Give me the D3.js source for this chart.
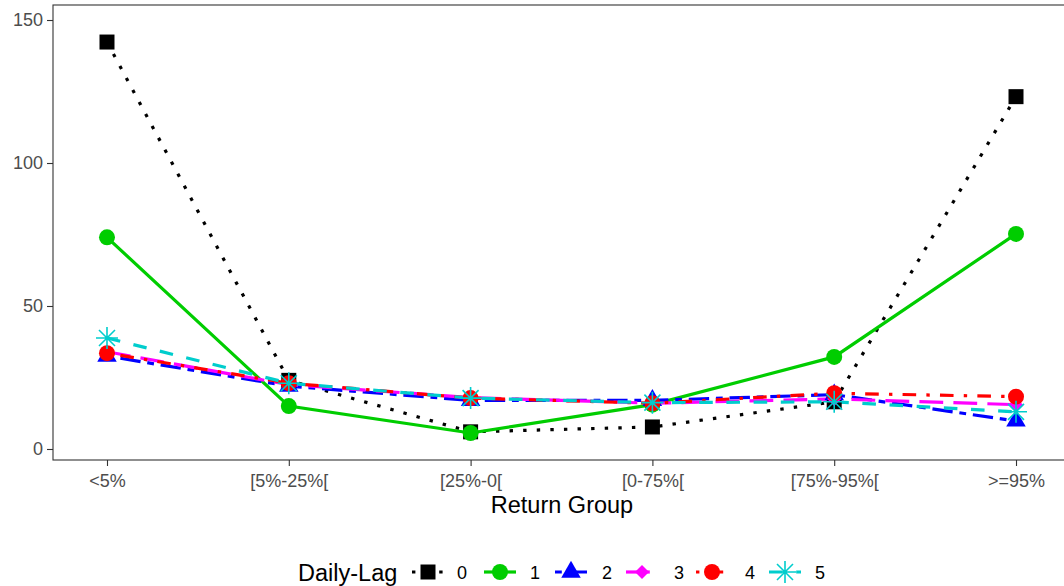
<!DOCTYPE html>
<html>
<head>
<meta charset="utf-8">
<script src="https://cdn.jsdelivr.net/npm/d3@7"></script>
<style>
  html, body { margin: 0; padding: 0; background: #fff; }
  svg { display: block; font-family: "Liberation Sans", Arial, sans-serif; }
</style>
</head>
<body>
<svg id="chart" width="1064" height="586"></svg>
<script>
// Return-group categories on the x axis
const groups = ["<5%", "[5%-25%[", "[25%-0[", "[0-75%[", "[75%-95%[", ">=95%"];

// Daily-lag series (one array per lag)
const lag0 = [142.3, 24, 6, 7.7, 16.5, 123.2];
const lag1 = [74, 15, 5.6, 15.5, 32.2, 75.2];
const lag2 = [32.5, 22, 17, 17, 19, 9.8];
const lag3 = [34, 22.5, 18, 16, 17.5, 15.5];
const lag4 = [33.5, 23, 17.8, 16, 19.5, 18.3];
const lag5 = [38.8, 23, 17.8, 16.2, 16.5, 13];

const lagNames = ["0", "1", "2", "3", "4", "5"];
const yTicks = [0, 50, 100, 150];

const seriesValues = [lag0, lag1, lag2, lag3, lag4, lag5];
const colors = ["#000000", "#00CD00", "#0000FF", "#FF00FF", "#FF0000", "#00CDCD"];
const lw = 3.2;
const u = 3.4; // dash unit
const dashes = [
  `${u} ${3 * u}`,               // dotted
  null,                           // solid
  `${2 * u} ${2 * u} ${6 * u} ${2 * u}`, // twodash
  `${7 * u} ${3 * u}`,           // longdash
  `${u} ${3 * u} ${4 * u} ${3 * u}`,     // dotdash
  `${4 * u} ${4 * u}`            // dashed
];
const shapes = ["square", "circle", "triangle", "diamond", "circle", "star"];

const svg = d3.select("#chart");
const panel = { left: 53, top: 5, right: 1070, bottom: 460 };

const x = d3.scalePoint().domain(groups).range([panel.left, panel.right]).padding(0.297);
const y = d3.scaleLinear().domain([-3.85, 155.25]).range([panel.bottom, panel.top]);

// clip to the panel
svg.append("defs").append("clipPath").attr("id", "clip")
  .append("rect").attr("x", panel.left).attr("y", panel.top)
  .attr("width", panel.right - panel.left).attr("height", panel.bottom - panel.top);

// axes
const xAxis = d3.axisBottom(x).tickSize(6).tickPadding(5);
const yAxis = d3.axisLeft(y).tickValues(yTicks).tickSize(6).tickPadding(4);

const gx = svg.append("g").attr("transform", `translate(0,${panel.bottom})`).call(xAxis);
gx.select(".domain").remove();
gx.selectAll(".tick line").attr("stroke", "#333").attr("stroke-width", 1.1);
gx.selectAll(".tick text").attr("fill", "#4d4d4d").style("font-size", "18px").attr("dy", "0.9em");

const gy = svg.append("g").attr("transform", `translate(${panel.left},0)`).call(yAxis);
gy.select(".domain").remove();
gy.selectAll(".tick line").attr("stroke", "#333").attr("stroke-width", 1.1);
gy.selectAll(".tick text").attr("fill", "#4d4d4d").style("font-size", "18px");

// marker drawing
function drawMarker(sel, shape, color) {
  if (shape === "square") {
    sel.append("path").attr("d", d3.symbol(d3.symbolSquare, 225)()).attr("fill", color);
  } else if (shape === "circle") {
    sel.append("circle").attr("r", 8).attr("fill", color);
  } else if (shape === "triangle") {
    sel.append("path").attr("d", d3.symbol(d3.symbolTriangle, 165)()).attr("fill", color);
  } else if (shape === "diamond") {
    sel.append("path").attr("d", "M0,-7L7,0L0,7L-7,0Z").attr("fill", color);
  } else if (shape === "star") {
    const a = 11, b = 8;
    sel.append("path")
      .attr("d", `M${-a},0L${a},0M0,${-a}L0,${a}M${-b},${-b}L${b},${b}M${-b},${b}L${b},${-b}`)
      .attr("stroke", color).attr("stroke-width", 1.6).attr("fill", "none");
  }
}

const plot = svg.append("g").attr("clip-path", "url(#clip)");
const line = d3.line().x((d, i) => x(groups[i])).y(d => y(d));

// lines first
seriesValues.forEach((vals, s) => {
  const p = plot.append("path").datum(vals)
    .attr("d", line)
    .attr("fill", "none")
    .attr("stroke", colors[s])
    .attr("stroke-width", lw);
  if (dashes[s]) p.attr("stroke-dasharray", dashes[s]);
});

// then points
seriesValues.forEach((vals, s) => {
  vals.forEach((v, i) => {
    const g = plot.append("g").attr("transform", `translate(${x(groups[i])},${y(v)})`);
    drawMarker(g, shapes[s], colors[s]);
  });
});

// panel border
svg.append("rect")
  .attr("x", panel.left).attr("y", panel.top)
  .attr("width", panel.right - panel.left).attr("height", panel.bottom - panel.top)
  .attr("fill", "none").attr("stroke", "#333").attr("stroke-width", 1.1);

// x axis title
svg.append("text")
  .attr("x", 562).attr("y", 513)
  .attr("text-anchor", "middle").style("font-size", "23.5px").attr("fill", "#000")
  .text("Return Group");

// legend
const legY = 572;
svg.append("text").attr("x", 298).attr("y", legY + 8.5)
  .style("font-size", "23.5px").attr("fill", "#000").text("Daily-Lag");

const keyCenters = [428, 500, 571, 642, 712, 785];
const labelCenters = [462, 535, 607, 679, 750, 820];
const keyW = 32;
lagNames.forEach((name, s) => {
  const cx = keyCenters[s];
  const k = svg.append("g");
  const l = k.append("line")
    .attr("x1", cx - keyW / 2).attr("x2", cx + keyW / 2)
    .attr("y1", legY).attr("y2", legY)
    .attr("stroke", colors[s]).attr("stroke-width", lw);
  if (dashes[s]) l.attr("stroke-dasharray", dashes[s]);
  const m = k.append("g").attr("transform", `translate(${cx},${legY})`);
  drawMarker(m, shapes[s], colors[s]);
  svg.append("text").attr("x", labelCenters[s]).attr("y", legY + 6.5)
    .attr("text-anchor", "middle").style("font-size", "18px").attr("fill", "#000")
    .text(name);
});
</script>
</body>
</html>
